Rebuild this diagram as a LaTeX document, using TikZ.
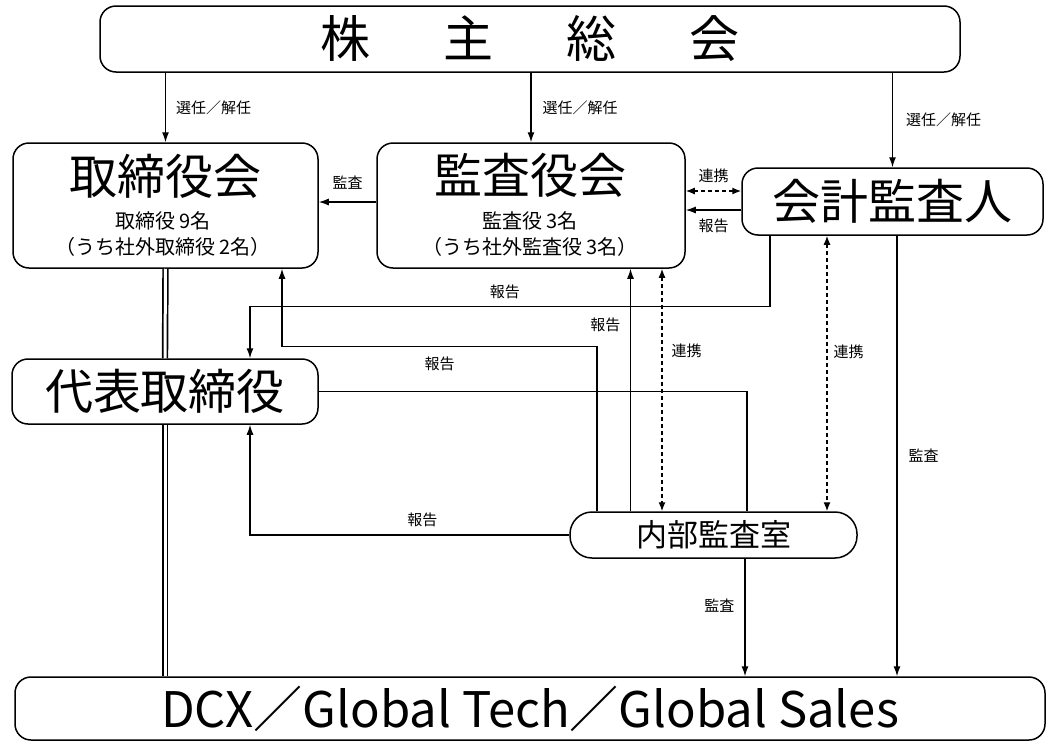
\documentclass[tikz,border=0pt]{standalone}
\usepackage{fontspec}
\setmainfont{Noto Sans CJK JP}
\usetikzlibrary{arrows.meta}
\begin{document}
\begin{tikzpicture}[x=1pt,y=-1pt]
        \tikzstyle{box} = [draw,line width=1.5pt,rounded corners=16pt,fill=white,inner sep=0pt]
        \tikzstyle{big} = [font=\fontsize{48}{52}\selectfont]
        \tikzstyle{sub} = [font=\fontsize{20}{26}\selectfont,align=center]
        \tikzstyle{lbl} = [font=\fontsize{15}{17}\selectfont,inner sep=1pt]
        \tikzstyle{ln} = [line width=1.3pt]
        \tikzstyle{arr} = [line width=1.3pt,-{Latex[length=10pt,width=7pt]}]
        \tikzstyle{link} = [line width=1.3pt,dash pattern=on 4pt off 3pt,{Latex[length=9pt,width=7pt]}-{Latex[length=9pt,width=7pt]}]
        \tikzstyle{dbl} = [double,double distance=3pt,line width=1.7pt]
        \useasboundingbox (0,0) rectangle (1047,742);
        \node[box,minimum width=860pt,minimum height=66pt,font=\fontsize{50}{54}\selectfont] (meeting) at (530,39) {株\hspace{73pt}主\hspace{73pt}総\hspace{73pt}会};
        \node[box,minimum width=305pt,minimum height=125pt] (board) at (165.5,205.5) {};
        \node[big] (board title) at (165,176) {取締役会};
        \node[sub] (board count) at (163,234) {取締役 9名\\（うち社外取締役 2名）};
        \node[box,minimum width=308pt,minimum height=125pt] (kansa) at (531,205.5) {};
        \node[big] (kansa title) at (530,175) {監査役会};
        \node[sub] (kansa count) at (530,234) {監査役 3名\\（うち社外監査役 3名）};
        \node[box,big,minimum width=301pt,minimum height=67pt] (auditor) at (892.5,201.5) {会計監査人};
        \node[box,big,minimum width=306pt,minimum height=65pt] (ceo) at (165,391.5) {代表取締役};
        \node[box,minimum width=287pt,minimum height=46pt,rounded corners=22pt,font=\fontsize{31}{34}\selectfont] (internal) at (713.5,535) {内部監査室};
        \node[box,minimum width=1030pt,minimum height=63pt,font=\fontsize{49}{53}\selectfont] (group) at (530,708.5) {DCX／Global Tech／Global Sales};
        % from the shareholders
        \draw[arr] (meeting.south -| board.north) -- node[lbl,right=9pt]{選任／解任} (board.north);
        \draw[arr] (meeting.south -| kansa.north) -- node[lbl,right=10pt]{選任／解任} (kansa.north);
        \draw[arr] (meeting.south -| auditor.north) -- node[lbl,right=12pt]{選任／解任} (auditor.north);
        % top row
        \draw[arr] ([yshift=3.5pt]kansa.west) -- node[lbl,above=11pt]{監査} ([yshift=3.5pt]board.east);
        \draw[link] ([yshift=14.5pt]kansa.east) -- node[lbl,above=7pt]{連携} ([yshift=10.5pt]auditor.west);
        \draw[arr] ([yshift=-8.5pt]auditor.west) -- node[lbl,below=7pt]{報告} ([yshift=-4.5pt]kansa.east);
        \draw[dbl] (board.south) -- (ceo.north);
        \draw[dbl] (ceo.south) -- (ceo.south |- group.north);
        % reports
        \draw[arr] ([xshift=-122.5pt]auditor.south) |- node[lbl,above=5.5pt,pos=0.755]{報告} ([xshift=85pt,yshift=52pt]ceo.north) -- ([xshift=85pt]ceo.north);
        \draw[arr] ([xshift=-116.5pt]internal.north) |- node[lbl,below=8.5pt,pos=0.75]{報告} ([xshift=116.5pt,yshift=-78pt]board.south) -- ([xshift=116.5pt]board.south);
        \draw[arr] ([xshift=-83pt]internal.north) -- node[lbl,left=8.5pt,pos=0.77]{報告} ([xshift=99.5pt]kansa.south);
        \draw[arr] (internal.west) -| node[lbl,above=6.5pt,pos=0.23]{報告} ([xshift=85pt]ceo.south);
        \draw[ln] (ceo.east) -| ([xshift=33.5pt]internal.north);
        % links
        \draw[link] ([xshift=131pt]kansa.south) -- node[lbl,right=8pt,pos=0.34]{連携} ([xshift=-51.5pt]internal.north);
        \draw[link] ([xshift=-65.5pt]auditor.south) -- node[lbl,right=5pt,pos=0.42]{連携} ([xshift=113.5pt]internal.north);
        % audits
        \draw[arr] ([xshift=4.5pt]auditor.south) -- node[lbl,right=10pt,pos=0.5]{監査} ([xshift=367pt]group.north);
        \draw[arr] ([xshift=31.5pt]internal.south) -- node[lbl,left=9pt,pos=0.4]{監査} ([xshift=215pt]group.north);
\end{tikzpicture}
\end{document}
